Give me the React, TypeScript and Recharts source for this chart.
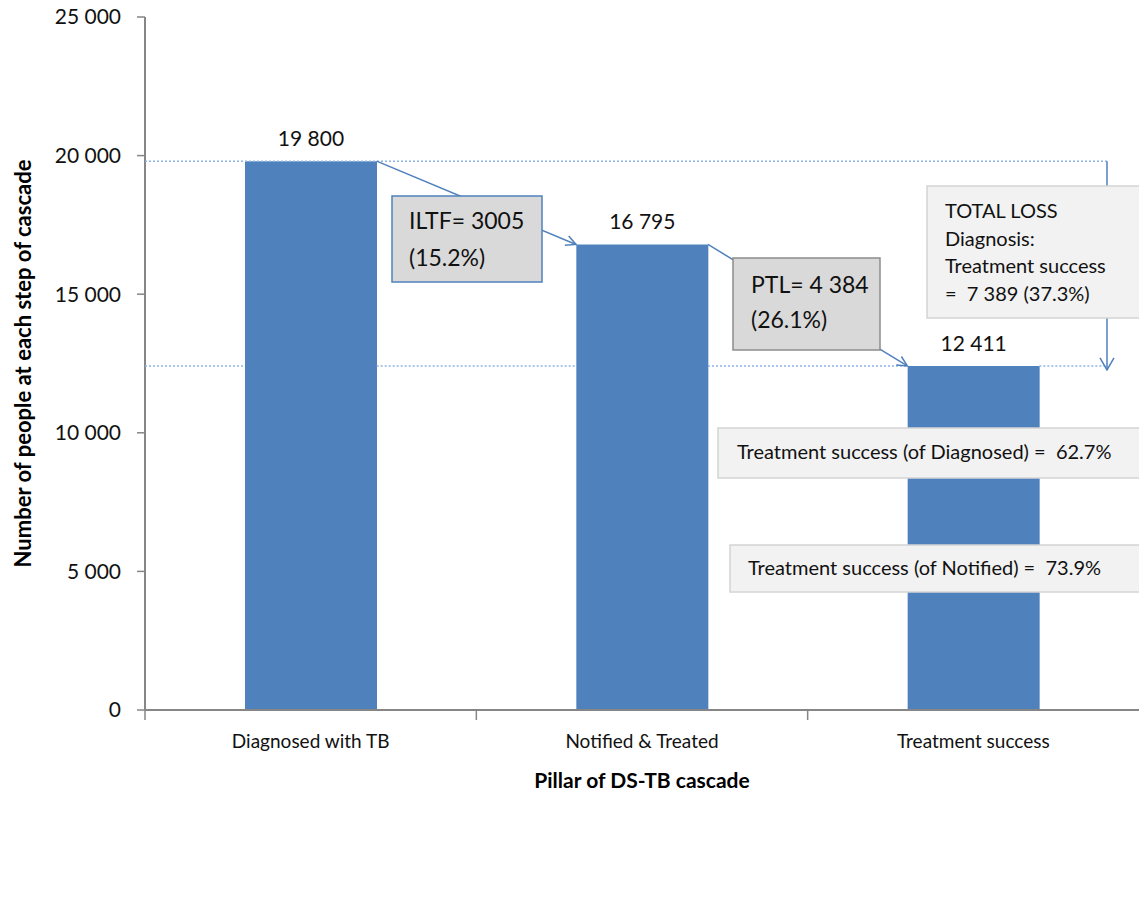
import React from 'react';
import { BarChart, Bar, XAxis, YAxis, LabelList } from 'recharts';

const categories = ['Diagnosed with TB', 'Notified & Treated', 'Treatment success'];
const people = [19800, 16795, 12411];
const yTicks = [0, 5000, 10000, 15000, 20000, 25000];

const iltfText = ['ILTF= 3005', '(15.2%)'];
const ptlText = ['PTL= 4 384', '(26.1%)'];
const totalLossText = ['TOTAL LOSS', 'Diagnosis:', 'Treatment success', '=  7 389 (37.3%)'];
const successDiagnosed = 'Treatment success (of Diagnosed) =  62.7%';
const successNotified = 'Treatment success (of Notified) =  73.9%';

const data = categories.map((name, i) => ({ name, value: people[i] }));

// chart geometry (kept in one place so the overlay lines up with the bars)
const W = 1139;
const H = 903;
const M = { top: 17, right: 0, bottom: 133, left: 0 };
const Y_AXIS_W = 145;
const X_AXIS_H = 60;
const BAR_W = 132;
const Y_MAX = 25000;
const PLOT_L = M.left + Y_AXIS_W;
const PLOT_R = W - M.right;
const PLOT_T = M.top;
const PLOT_B = H - M.bottom - X_AXIS_H;
const BAND = (PLOT_R - PLOT_L) / categories.length;

const FONT = 'Lato, "Open Sans", sans-serif';
const BLUE = '#4f81bd';
const DOT = '#8eb4e3';
const PRE = { whiteSpace: 'pre' as const };

const fmt = (n: number) => String(n).replace(/\B(?=(\d{3})+(?!\d))/g, ' ');
const yOf = (v: number) => PLOT_B - (v / Y_MAX) * (PLOT_B - PLOT_T);
const barLeft = (i: number) => PLOT_L + BAND * (i + 0.5) - BAR_W / 2;
const barRight = (i: number) => barLeft(i) + BAR_W;

function Overlay() {
  const y0 = yOf(people[0]);
  const y1 = yOf(people[1]);
  const y2 = yOf(people[2]);
  const lossX = 1107;
  return (
    <svg width={W} height={H} style={{ position: 'absolute', left: 0, top: 0, pointerEvents: 'none' }}>
      <defs>
        <marker id="openArrow" viewBox="0 0 12 12" refX="11" refY="6" markerWidth="12" markerHeight="12" orient="auto" markerUnits="userSpaceOnUse">
          <path d="M1,1 L11,6 L1,11" fill="none" stroke={BLUE} strokeWidth={1.5} />
        </marker>
        <marker id="downArrow" viewBox="0 0 16 16" refX="8" refY="15" markerWidth="16" markerHeight="16" orient="0" markerUnits="userSpaceOnUse">
          <path d="M1,3 L8,15 L15,3" fill="none" stroke={BLUE} strokeWidth={1.5} />
        </marker>
      </defs>

      {/* category boundary ticks */}
      {[0, 1, 2].map((i) => (
        <line key={i} x1={PLOT_L + BAND * i} x2={PLOT_L + BAND * i} y1={PLOT_B} y2={PLOT_B + 10} stroke="#868686" strokeWidth={1.5} />
      ))}

      {/* loss reference lines */}
      <line x1={PLOT_L} x2={lossX} y1={y0} y2={y0} stroke={DOT} strokeWidth={1.5} strokeDasharray="2 2" />
      <line x1={barRight(2)} x2={lossX} y1={y2} y2={y2} stroke={DOT} strokeWidth={1.5} strokeDasharray="2 2" />
      <line x1={PLOT_L} x2={barLeft(0)} y1={y2} y2={y2} stroke={DOT} strokeWidth={1.5} strokeDasharray="2 2" />
      <line x1={barRight(0)} x2={barLeft(1)} y1={y2} y2={y2} stroke={DOT} strokeWidth={1.5} strokeDasharray="2 2" />
      <line x1={barRight(1)} x2={barLeft(2)} y1={y2} y2={y2} stroke={DOT} strokeWidth={1.5} strokeDasharray="2 2" />
      <line x1={lossX} x2={lossX} y1={y0} y2={y2 + 4} stroke={BLUE} strokeWidth={1.5} markerEnd="url(#downArrow)" />

      {/* step connectors */}
      <line x1={barRight(0)} y1={y0} x2={barLeft(1)} y2={y1} stroke={BLUE} strokeWidth={1.5} markerEnd="url(#openArrow)" />
      <line x1={barRight(1)} y1={y1} x2={barLeft(2)} y2={y2} stroke={BLUE} strokeWidth={1.5} markerEnd="url(#openArrow)" />

      {/* ILTF box */}
      <rect x={392} y={196} width={150} height={86} fill="#d9d9d9" stroke={BLUE} strokeWidth={1.5} />
      {iltfText.map((t, i) => (
        <text key={t} x={409} y={229 + i * 37} fontFamily={FONT} fontSize={23} fill="#111">{t}</text>
      ))}

      {/* PTL box */}
      <rect x={733} y={258} width={147} height={92} fill="#d9d9d9" stroke="#8c8c8c" strokeWidth={1.5} />
      {ptlText.map((t, i) => (
        <text key={t} x={751} y={293 + i * 35} fontFamily={FONT} fontSize={23} fill="#111">{t}</text>
      ))}

      {/* total loss box */}
      <rect x={927} y={186} width={230} height={132} fill="#f2f2f2" stroke="#d4d4d4" strokeWidth={1.5} />
      {totalLossText.map((t, i) => (
        <text key={t} x={945} y={218 + i * 27.5} fontFamily={FONT} fontSize={20} fill="#111" style={PRE}>{t}</text>
      ))}

      {/* success boxes */}
      <rect x={718} y={428} width={440} height={50} fill="#f2f2f2" stroke="#d4d4d4" strokeWidth={1.5} />
      <text x={737} y={459} fontFamily={FONT} fontSize={20} fill="#111" style={PRE}>{successDiagnosed}</text>
      <rect x={730} y={545} width={430} height={47} fill="#f2f2f2" stroke="#d4d4d4" strokeWidth={1.5} />
      <text x={748} y={575} fontFamily={FONT} fontSize={20} fill="#111" style={PRE}>{successNotified}</text>

      {/* axis titles */}
      <text x={22} y={(PLOT_T + PLOT_B) / 2} transform={`rotate(-90 22 ${(PLOT_T + PLOT_B) / 2})`} textAnchor="middle" dominantBaseline="central" fontFamily={FONT} fontSize={22} fontWeight="bold" fill="#000">
        Number of people at each step of cascade
      </text>
      <text x={PLOT_L + BAND * 1.5} y={779} textAnchor="middle" dominantBaseline="central" fontFamily={FONT} fontSize={21} fontWeight="bold" fill="#000">
        Pillar of DS-TB cascade
      </text>
    </svg>
  );
}

export default function App() {
  return (
    <div style={{ position: 'absolute', left: 0, top: 0, width: W, height: H, background: '#fff' }}>
      <BarChart width={W} height={H} data={data} margin={M}>
        <XAxis
          dataKey="name"
          height={X_AXIS_H}
          tickLine={false}
          tickSize={10}
          tickMargin={15}
          axisLine={{ stroke: '#868686', strokeWidth: 2 }}
          tick={{ fontSize: 19, fill: '#111', fontFamily: FONT }}
          interval={0}
        />
        <YAxis
          width={Y_AXIS_W}
          domain={[0, Y_MAX]}
          ticks={yTicks}
          tickFormatter={fmt}
          tickSize={8}
          tickMargin={16}
          axisLine={{ stroke: '#868686', strokeWidth: 2 }}
          tickLine={{ stroke: '#868686', strokeWidth: 1.5 }}
          tick={{ fontSize: 21, fill: '#111', fontFamily: FONT }}
        />
        <Bar dataKey="value" fill={BLUE} barSize={BAR_W} isAnimationActive={false}>
          <LabelList dataKey="value" position="top" offset={15} formatter={(v: any) => fmt(Number(v))} style={{ fontSize: 21, fill: '#111', fontFamily: FONT }} />
        </Bar>
      </BarChart>
      <Overlay />
    </div>
  );
}
